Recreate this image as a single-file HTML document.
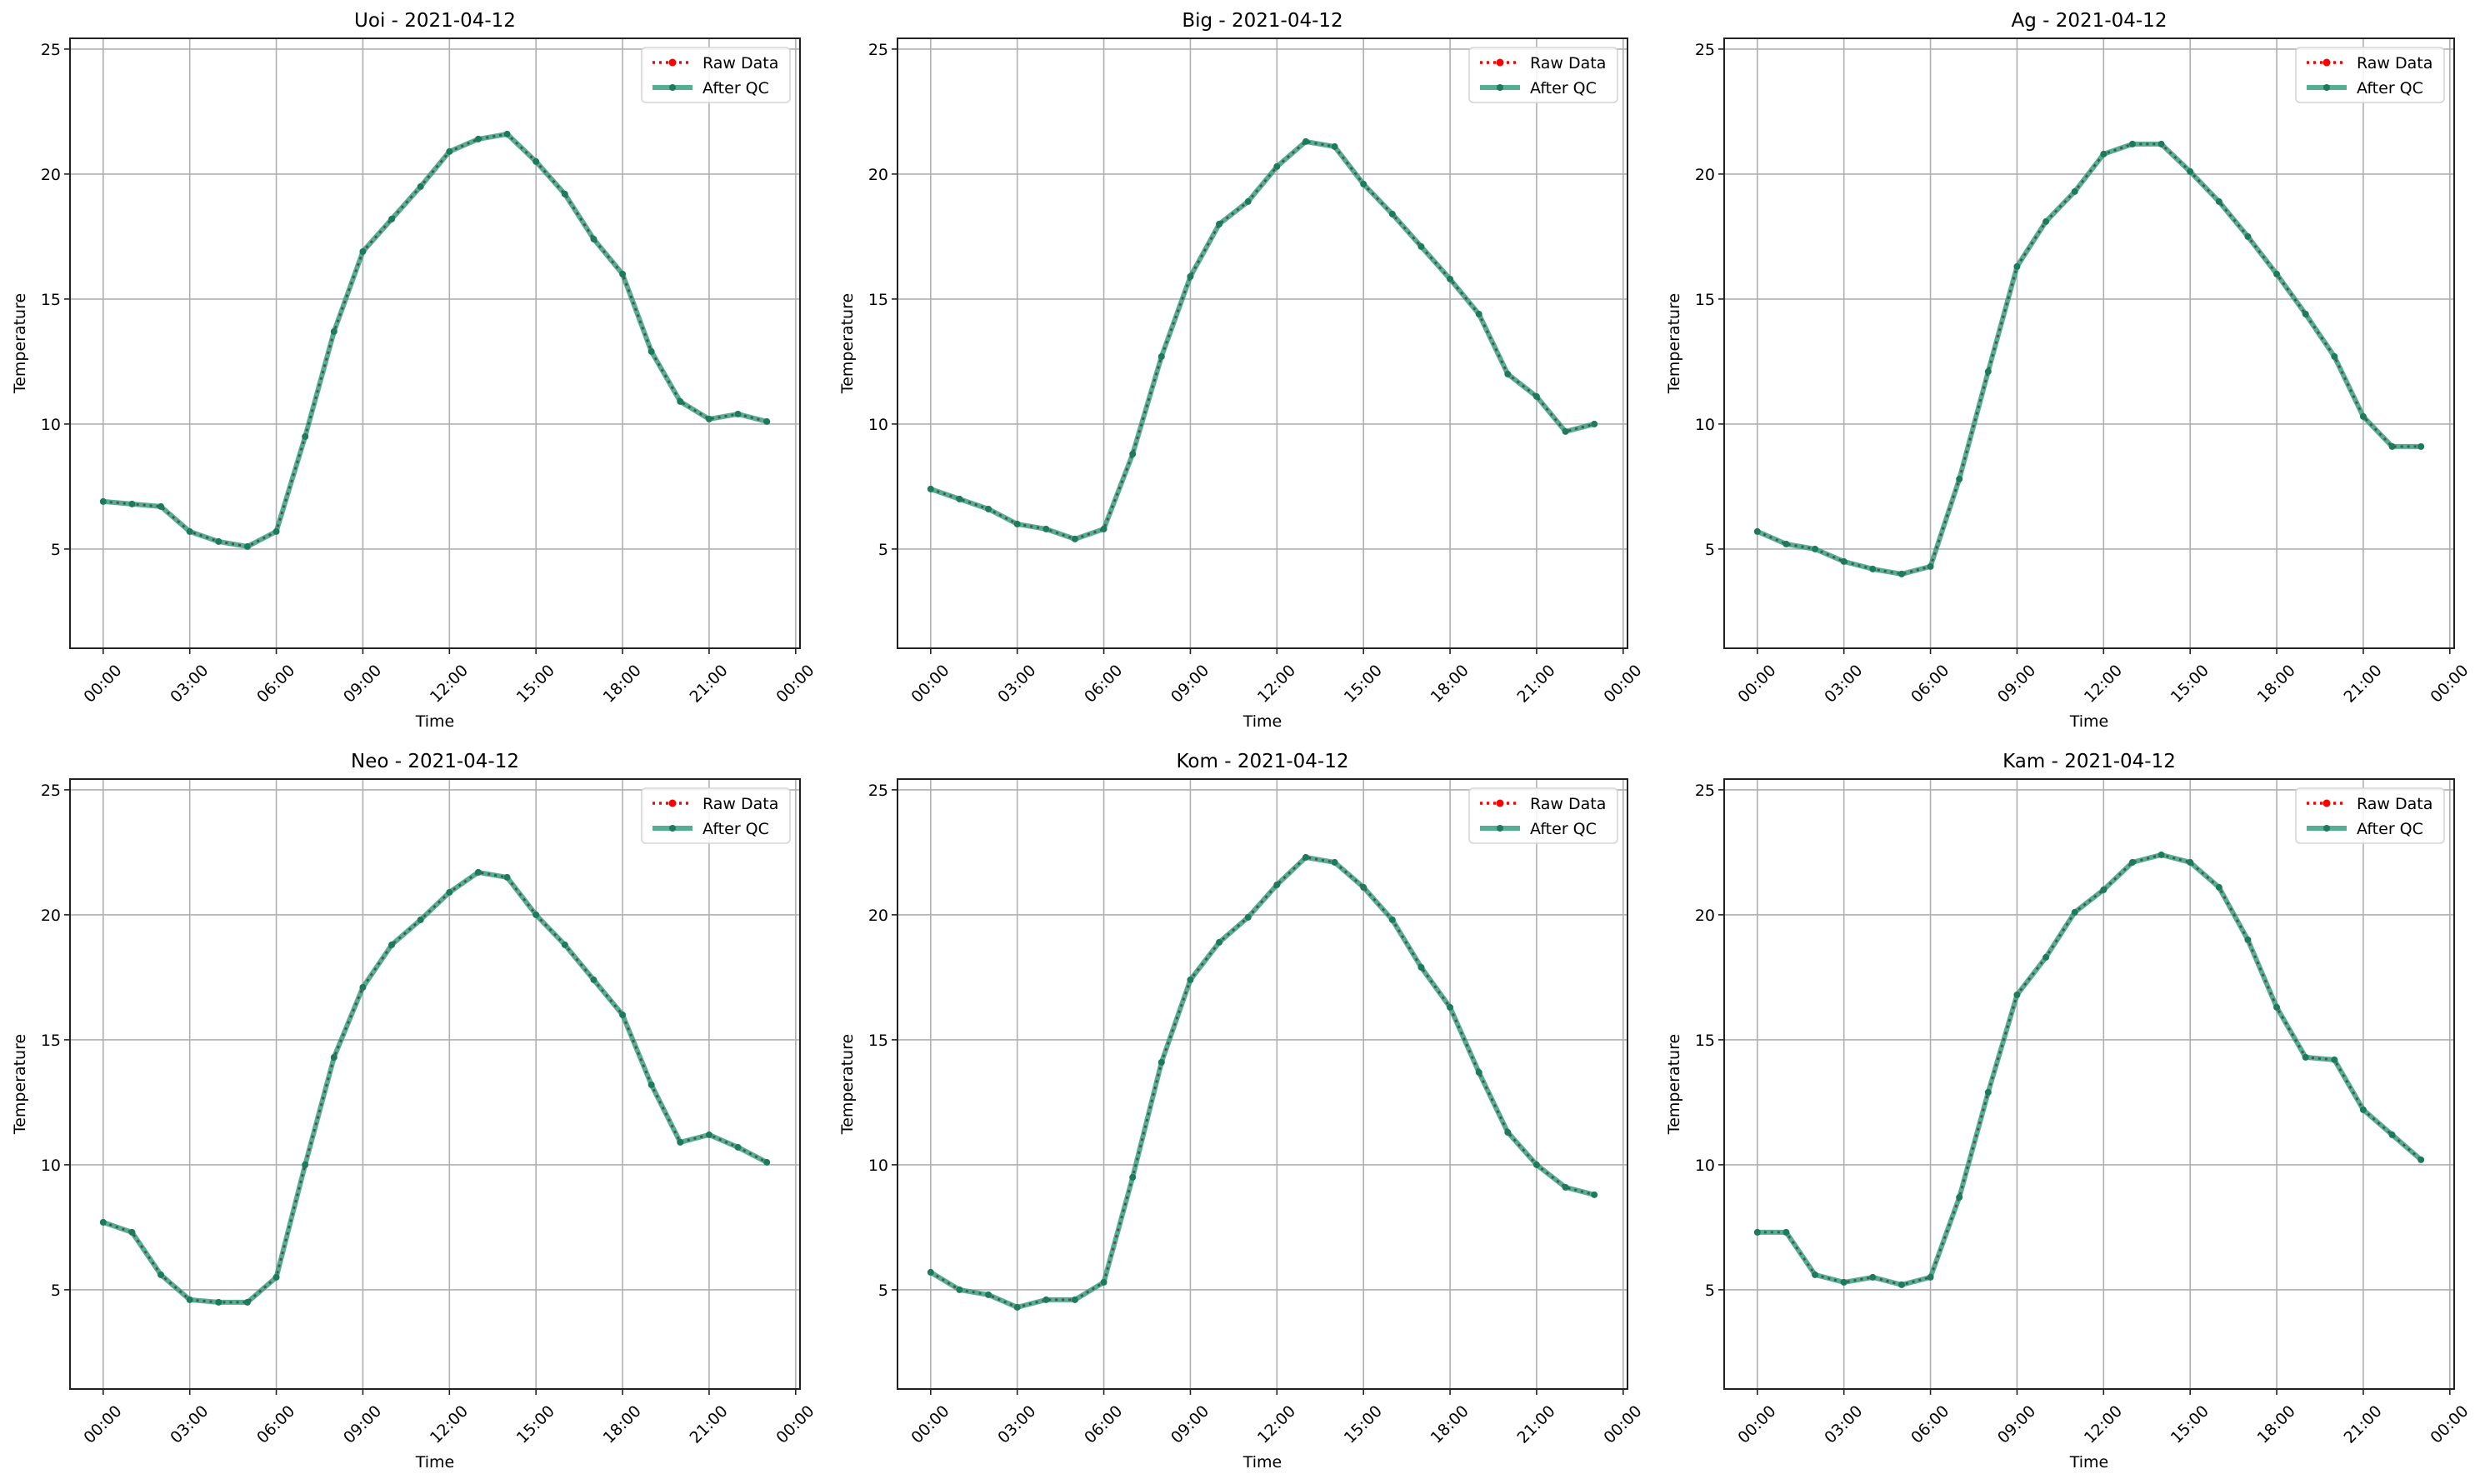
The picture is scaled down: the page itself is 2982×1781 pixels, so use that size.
<!DOCTYPE html>
<html><head><meta charset="utf-8"><style>
html,body{margin:0;padding:0;background:#fff;}
svg{display:block;font-family:"DejaVu Sans","Liberation Sans",sans-serif;}
</style></head><body>
<svg id="fig" width="2982" height="1781" viewBox="0 0 2982 1781" xmlns="http://www.w3.org/2000/svg"></svg>
<script>
const stations = ["Uoi","Big","Ag","Neo","Kom","Kam"];
const dateLabel = "2021-04-12";
const hours = [0,1,2,3,4,5,6,7,8,9,10,11,12,13,14,15,16,17,18,19,20,21,22,23];
const uoiValues = [6.9,6.8,6.7,5.7,5.3,5.1,5.7,9.5,13.7,16.9,18.2,19.5,20.9,21.4,21.6,20.5,19.2,17.4,16.0,12.9,10.9,10.2,10.4,10.1];
const bigValues = [7.4,7.0,6.6,6.0,5.8,5.4,5.8,8.8,12.7,15.9,18.0,18.9,20.3,21.3,21.1,19.6,18.4,17.1,15.8,14.4,12.0,11.1,9.7,10.0];
const agValues = [5.7,5.2,5.0,4.5,4.2,4.0,4.3,7.8,12.1,16.3,18.1,19.3,20.8,21.2,21.2,20.1,18.9,17.5,16.0,14.4,12.7,10.3,9.1,9.1];
const neoValues = [7.7,7.3,5.6,4.6,4.5,4.5,5.5,10.0,14.3,17.1,18.8,19.8,20.9,21.7,21.5,20.0,18.8,17.4,16.0,13.2,10.9,11.2,10.7,10.1];
const komValues = [5.7,5.0,4.8,4.3,4.6,4.6,5.3,9.5,14.1,17.4,18.9,19.9,21.2,22.3,22.1,21.1,19.8,17.9,16.3,13.7,11.3,10.0,9.1,8.8];
const kamValues = [7.3,7.3,5.6,5.3,5.5,5.2,5.5,8.7,12.9,16.8,18.3,20.1,21.0,22.1,22.4,22.1,21.1,19.0,16.3,14.3,14.2,12.2,11.2,10.2];
const seriesList = [uoiValues,bigValues,agValues,neoValues,komValues,kamValues];
const xTickHours = [0,3,6,9,12,15,18,21,24];
const xTickLabels = ["00:00","03:00","06:00","09:00","12:00","15:00","18:00","21:00","00:00"];
const yTicks = [5,10,15,20,25];

const NS="http://www.w3.org/2000/svg";
const svg=document.getElementById('fig');
function mk(tag,attrs,parent){const e=document.createElementNS(NS,tag);for(const k in attrs)e.setAttribute(k,attrs[k]);(parent||svg).appendChild(e);return e;}
const lefts=[84,1077,2069], tops=[46,935];
const W=876,H=732;
const xMin=-1.15,xMax=24.15,yMin=1.03,yMax=25.43;

stations.forEach((name,i)=>{
  const L=lefts[i%3],T=tops[Math.floor(i/3)];
  const xs=h=>L+(h-xMin)/(xMax-xMin)*W;
  const ys=v=>T+H-(v-yMin)/(yMax-yMin)*H;
  const g=mk('g',{});
  
  
  xTickHours.forEach((h,k)=>{
    const x=xs(h);
    const gl=mk('line',{x1:x,x2:x,y1:T,y2:T+H,stroke:'#b0b0b0','stroke-width':1.6},g);
    
    
    mk('line',{x1:x,x2:x,y1:T+H,y2:T+H+7,stroke:'#222','stroke-width':1.6},g);
    const t=mk('text',{x:x,y:T+H+43,'font-size':19,'text-anchor':'middle','dominant-baseline':'middle',transform:`rotate(-45 ${x} ${T+H+43})`,fill:'#000'},g);
    t.textContent=xTickLabels[k];
    
    
  });
  yTicks.forEach(v=>{
    const y=ys(v);
    const gl=mk('line',{x1:L,x2:L+W,y1:y,y2:y,stroke:'#b0b0b0','stroke-width':1.6},g);
    
    
    mk('line',{x1:L-7,x2:L,y1:y,y2:y,stroke:'#222','stroke-width':1.6},g);
    const t=mk('text',{x:L-11,y:y+7,'font-size':19,'text-anchor':'end',fill:'#000'},g);
    t.textContent=v;
    
    
  });
  const vals=seriesList[i];
  const pts=hours.map((h,k)=>xs(h)+','+ys(vals[k])).join(' ');
  const raw=mk('polyline',{points:pts,fill:'none',stroke:'#ff0000','stroke-width':3,'stroke-dasharray':'3 5'},g);
  
  
  const qc=mk('polyline',{points:pts,fill:'none',stroke:'#2a9a77','stroke-width':6,'stroke-opacity':0.8,'stroke-linejoin':'round'},g);
  
  
  mk('polyline',{points:pts,fill:'none',stroke:'#444','stroke-width':2.5,'stroke-dasharray':'3 5','stroke-opacity':0.7},g);
  hours.forEach((h,k)=>{
    const c=mk('circle',{cx:xs(h),cy:ys(vals[k]),r:4,fill:'#1e7a5c'},g);
    
    
  });
  const fr=mk('rect',{x:L,y:T,width:W,height:H,fill:'none',stroke:'#222','stroke-width':2},g);
  
  
  const tt=mk('text',{x:L+W/2,y:T-14,'font-size':23,'text-anchor':'middle',fill:'#000'},g);
  tt.textContent=name+' - '+dateLabel;
  
  
  const xl=mk('text',{x:L+W/2,y:T+H+94,'font-size':19,'text-anchor':'middle',fill:'#000'},g);
  xl.textContent='Time';
  
  
  const yl=mk('text',{x:L-54,y:T+H/2,'font-size':19,'text-anchor':'middle',transform:`rotate(-90 ${L-54} ${T+H/2})`,fill:'#000'},g);
  yl.textContent='Temperature';
  
  
  const lg=mk('g',{},g);
  
  
  const lx=L+W-190,ly=T+11;
  mk('rect',{x:lx,y:ly,width:178,height:66,rx:5,fill:'#fff','fill-opacity':0.85,stroke:'#d5d5d5','stroke-width':1.6},lg);
  mk('line',{x1:lx+13,x2:lx+61,y1:ly+18,y2:ly+18,stroke:'#ff0000','stroke-width':3.5,'stroke-dasharray':'3 5'},lg);
  mk('circle',{cx:lx+37,cy:ly+18,r:4.5,fill:'#ff0000'},lg);
  const t1=mk('text',{x:lx+73,y:ly+25,'font-size':19,fill:'#000'},lg);t1.textContent='Raw Data';
  
  
  mk('line',{x1:lx+13,x2:lx+61,y1:ly+48,y2:ly+48,stroke:'#2a9a77','stroke-width':6,'stroke-opacity':0.8},lg);
  mk('circle',{cx:lx+37,cy:ly+48,r:4,fill:'#1e7a5c'},lg);
  const t2=mk('text',{x:lx+73,y:ly+55,'font-size':19,fill:'#000'},lg);t2.textContent='After QC';
  
  
});
</script>
</body></html>
